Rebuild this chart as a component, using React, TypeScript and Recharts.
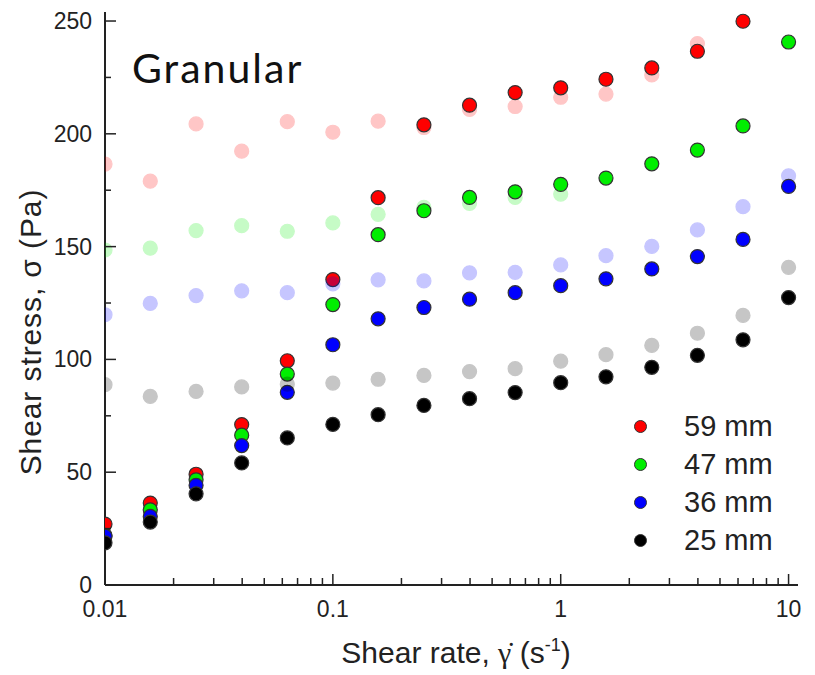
import { ScatterChart, Scatter, XAxis, YAxis } from 'recharts'

// shear rates (s^-1), 5 points per decade
const RATES = [0.01, 0.0158, 0.0251, 0.0398, 0.0631, 0.1, 0.158, 0.251, 0.398, 0.631, 1, 1.58, 2.51, 3.98, 6.31, 10]

// solid series (shear stress, Pa)
const S59 = [27, 36.3, 49.1, 71.1, 99.4, 135.4, 171.7, 204, 212.7, 218.3, 220.4, 224.2, 229.2, 236.6, 249.9, null]
const S47 = [22, 33.3, 46.6, 66.4, 93.5, 124.3, 155.3, 165.9, 171.8, 174.3, 177.6, 180.4, 186.7, 192.8, 203.5, 240.7]
const S36 = [21.6, 30.4, 44.2, 61.8, 85.4, 106.5, 118, 123, 126.7, 129.6, 132.7, 135.7, 140.1, 145.6, 153.2, 176.7]
const S25 = [18.7, 27.9, 40.4, 54.1, 65.2, 71.2, 75.5, 79.6, 82.6, 85.3, 89.7, 92.3, 96.5, 101.8, 108.7, 127.4]

// faded series
const F59 = [186.6, 179, 204.4, 192.3, 205.4, 200.7, 205.6, 202.8, 210.8, 212.1, 216.2, 217.6, 226.1, 240, null, null]
const F47 = [148.5, 149.3, 157.1, 159.3, 156.8, 160.5, 164.3, 167.4, 169.2, 171.8, 173.3, null, null, null, null, null]
const F36 = [119.8, 124.8, 128.3, 130.4, 129.6, 133.5, 135.3, 134.8, 138.4, 138.6, 141.9, 146, 150.1, 157.4, 167.7, 181.4]
const F25 = [88.8, 83.6, 85.8, 87.8, 89, 89.5, 91.2, 92.9, 94.6, 95.9, 99.2, 102.1, 106.2, 111.6, 119.5, 140.8]

const LEGEND = ['59 mm', '47 mm', '36 mm', '25 mm']
const COLORS = ['#ff0000', '#00ee00', '#0000ff', '#000000']

const X_TICKS = [
  0.01, 0.02, 0.03, 0.04, 0.05, 0.06, 0.07, 0.08, 0.09,
  0.1, 0.2, 0.3, 0.4, 0.5, 0.6, 0.7, 0.8, 0.9,
  1, 2, 3, 4, 5, 6, 7, 8, 9, 10,
]
const X_LABELS = [0.01, 0.1, 1, 10]
const Y_TICKS = [0, 25, 50, 75, 100, 125, 150, 175, 200, 225, 250]
const Y_LABELS = [0, 50, 100, 150, 200, 250]

const PL = 105
const PB = 585
const AXIS = '#222'
const FONT = '"Liberation Sans", Arial, sans-serif'

const pts = (ys: (number | null)[]) =>
  RATES.map((x, i) => ({ x, y: ys[i] })).filter((d) => d.y !== null)

const dot = (color: string, faded: boolean) => (p: any) => (
  <circle
    cx={p.cx}
    cy={p.cy}
    r={7}
    fill={color}
    stroke={faded ? color : '#333'}
    strokeWidth={1.2}
    opacity={faded ? 0.22 : 1}
  />
)

const XTick = (props: any) => {
  const { x, payload } = props
  const major = X_LABELS.includes(payload.value)
  return (
    <g>
      <line x1={x} x2={x} y1={PB} y2={PB - (major ? 11 : 7)} stroke={AXIS} strokeWidth={1.5} />
      {major && (
        <text x={x} y={PB + 32} textAnchor="middle" fontSize={23} fill={AXIS} fontFamily={FONT}>
          {payload.value}
        </text>
      )}
    </g>
  )
}

const YTick = (props: any) => {
  const { y, payload } = props
  const major = Y_LABELS.includes(payload.value)
  return (
    <g>
      <line x1={PL} x2={PL + (major ? 11 : 6)} y1={y} y2={y} stroke={AXIS} strokeWidth={1.5} />
      {major && (
        <text x={PL - 13} y={y + 8} textAnchor="end" fontSize={23} fill={AXIS} fontFamily={FONT}>
          {payload.value}
        </text>
      )}
    </g>
  )
}

const XTitle = () => (
  <text x={456} y={663} textAnchor="middle" fontSize={30} fill={AXIS} fontFamily={FONT}>
    Shear rate,{' '}
    <tspan fontFamily="'Liberation Serif', serif">γ̇</tspan> (s
    <tspan fontSize={18} dy={-12}>-1</tspan>
    <tspan dy={12}>)</tspan>
  </text>
)

const YTitle = () => (
  <text
    x={41}
    y={332}
    transform="rotate(-90 41 332)"
    textAnchor="middle"
    fontSize={30}
    letterSpacing={0.9}
    fill={AXIS}
    fontFamily={FONT}
  >
    Shear stress, σ (Pa)
  </text>
)

export default function App() {
  const solid = [S59, S47, S36, S25]
  const faded = [F59, F47, F36, F25]
  return (
    <div style={{ position: 'absolute', left: 0, top: 0, width: 815, height: 675, background: '#fff' }}>
      <ScatterChart width={815} height={675} margin={{ top: 12, right: 17, bottom: 30, left: 25 }}>
        <XAxis
          type="number"
          dataKey="x"
          scale="log"
          domain={[0.01, 11]}
          allowDataOverflow
          ticks={X_TICKS}
          interval={0}
          tick={<XTick />}
          tickLine={false}
          axisLine={{ stroke: AXIS, strokeWidth: 2 }}
          height={60}
          label={{ content: () => <XTitle /> }}
        />
        <YAxis
          type="number"
          dataKey="y"
          domain={[0, 254]}
          allowDataOverflow
          ticks={Y_TICKS}
          interval={0}
          tick={<YTick />}
          tickLine={false}
          axisLine={{ stroke: AXIS, strokeWidth: 2 }}
          width={80}
          label={{ content: () => <YTitle /> }}
        />
        {solid.map((s, i) => [
          <Scatter
            key={'f' + i}
            data={pts(faded[i])}
            shape={dot(COLORS[i], true)}
            isAnimationActive={false}
          />,
          <Scatter
            key={'s' + i}
            data={pts(s)}
            shape={dot(COLORS[i], false)}
            isAnimationActive={false}
          />,
        ])}
      </ScatterChart>
      <div
        style={{
          position: 'absolute',
          left: 132,
          top: 44,
          fontFamily: 'Lato, "Noto Sans", sans-serif',
          fontSize: 41,
          letterSpacing: 2,
          color: '#111',
          lineHeight: '48px',
        }}
      >
        Granular
      </div>
      <div style={{ position: 'absolute', left: 634, top: 407, fontFamily: FONT, fontSize: 29, color: AXIS }}>
        {LEGEND.map((name, i) => (
          <div key={name} style={{ display: 'flex', alignItems: 'center', height: 38 }}>
            <span
              style={{
                display: 'inline-block',
                width: 13,
                height: 13,
                borderRadius: '50%',
                background: COLORS[i],
                border: '1px solid #333',
                boxSizing: 'border-box',
                marginRight: 37,
              }}
            />
            {name}
          </div>
        ))}
      </div>
    </div>
  )
}
